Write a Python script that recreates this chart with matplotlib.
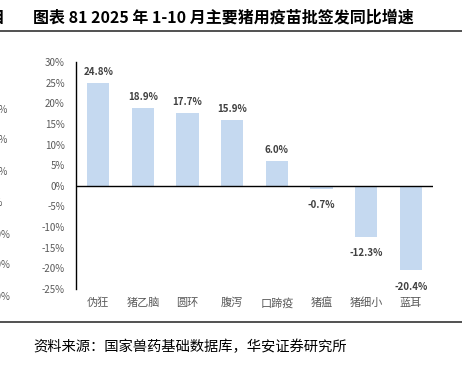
import matplotlib
matplotlib.use("Agg")
import matplotlib.pyplot as plt
from matplotlib.lines import Line2D
from matplotlib.transforms import blended_transform_factory

plt.rcParams['font.family'] = ['Noto Sans CJK SC', 'DejaVu Sans']

categories = ["伪狂", "猪乙脑", "圆环", "腹泻", "口蹄疫", "猪瘟", "猪细小", "蓝耳"]
values = [24.8, 18.9, 17.7, 15.9, 6.0, -0.7, -12.3, -20.4]
yticks = [30, 25, 20, 15, 10, 5, 0, -5, -10, -15, -20, -25]
title = "图表 81 2025 年 1-10 月主要猪用疫苗批签发同比增速"
source = "资料来源：国家兽药基础数据库，华安证券研究所"

W, H = 462, 369
fig = plt.figure(figsize=(W / 100, H / 100), dpi=100)

def fx(x):
    return x / W

def fy(y):
    return 1 - y / H

ax = fig.add_axes([fx(76), fy(289), fx(433) - fx(76), fy(62) - fy(289)])
x = list(range(len(categories)))
ax.bar(x, values, width=0.5, color="#C5D9F0", zorder=2)
ax.set_xlim(-0.5, len(categories) - 0.5)
ax.set_ylim(-25, 30)
ax.set_yticks(yticks)
ax.set_yticklabels([f"{t}%" for t in yticks], color="#595959", fontsize=7)
ax.set_xticks([])
ax.tick_params(axis='y', length=0, pad=8)
for s in ["top", "right", "bottom"]:
    ax.spines[s].set_visible(False)
ax.spines["left"].set_color("black")
ax.spines["left"].set_linewidth(1.0)
ax.axhline(0, color="black", linewidth=1.0, zorder=3)

for xi, v in zip(x, values):
    if v >= 0:
        ax.annotate(f"{v:.1f}%", (xi, v), xytext=(0, 8), textcoords="offset points",
                    ha="center", va="center", fontsize=7, fontweight="bold", color="#404040")
    else:
        ax.annotate(f"{v:.1f}%", (xi, v), xytext=(0, -12), textcoords="offset points",
                    ha="center", va="center", fontsize=7, fontweight="bold", color="#404040")

bt = blended_transform_factory(ax.transData, fig.transFigure)
for xi, c in zip(x, categories):
    ax.text(xi, fy(303), c, transform=bt, ha="center", va="center",
            fontsize=8, color="#595959", clip_on=False)

# Title
fig.text(fx(33), fy(18), title, ha="left", va="center", fontsize=11.5, fontweight="bold", color="black")
# left fragment of neighbouring title
fig.text(fx(5), fy(18), "目", ha="right", va="center", fontsize=11.5, fontweight="bold", color="black")

# Lines
fig.add_artist(Line2D([0, 1], [fy(31), fy(31)], color="#333333", linewidth=1.2, transform=fig.transFigure))
fig.add_artist(Line2D([0, 1], [fy(322), fy(322)], color="#333333", linewidth=1.2, transform=fig.transFigure))

# Source
fig.text(fx(33), fy(347), source, ha="left", va="center", fontsize=10.3, color="black")

# Left fragments of neighbouring chart labels
frag = [(110, "0%"), (140, "0%"), (172, "0%"), (203, "0%"), (235, "10%"), (265, "10%"), (297, "10%")]
frag_right = [8, 8, 8, 3, 10, 10, 10]
for (yy, t), xr in zip(frag, frag_right):
    fig.text(fx(xr), fy(yy), t, ha="right", va="center", fontsize=7, color="#595959")

fig.savefig("out.png", dpi=100)
